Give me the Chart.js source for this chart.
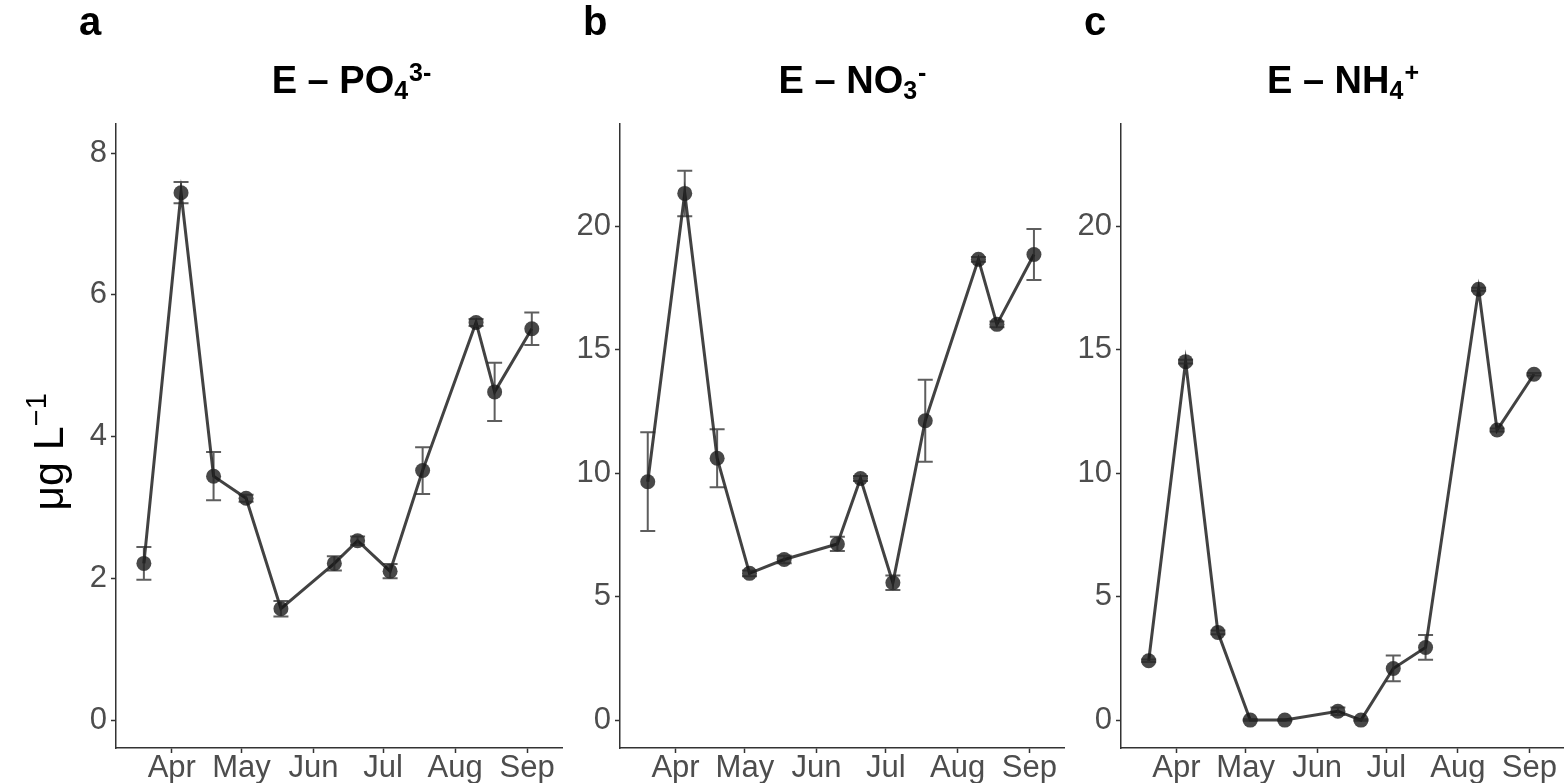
<!DOCTYPE html>
<html>
<head>
<meta charset="utf-8">
<script src="https://cdn.jsdelivr.net/npm/chart.js@4.4.1/dist/chart.umd.min.js"></script>
<style>
  html, body { margin: 0; padding: 0; background: #fff; }
  #wrap { position: relative; width: 1564px; height: 783px; overflow: hidden; }
  .pane { position: absolute; top: 0; height: 783px; }
</style>
</head>
<body>
<div id="wrap">
  <div class="pane" style="left:0px;width:564px"><canvas id="chartA" width="564" height="783"></canvas></div>
  <div class="pane" style="left:564px;width:502px"><canvas id="chartB" width="502" height="783"></canvas></div>
  <div class="pane" style="left:1066px;width:498px"><canvas id="chartC" width="498" height="783"></canvas></div>
</div>
<script>
// sampling dates (same for all three panels)
const sampleDates = ['2019-03-20', '2019-04-05', '2019-04-19', '2019-05-03', '2019-05-18', '2019-06-10',
                     '2019-06-20', '2019-07-04', '2019-07-18', '2019-08-10', '2019-08-18', '2019-09-03'];
const monthStarts = ['2019-04-01', '2019-05-01', '2019-06-01', '2019-07-01', '2019-08-01', '2019-09-01'];
const monthLabels = ['Apr', 'May', 'Jun', 'Jul', 'Aug', 'Sep'];

// a: PO4 3-
const po4Mean = [2.21, 7.44, 3.44, 3.13, 1.57, 2.21, 2.53, 2.10, 3.52, 5.61, 4.63, 5.52];
const po4Err  = [0.23, 0.15, 0.34, 0.05, 0.11, 0.10, 0.06, 0.10, 0.33, 0.05, 0.41, 0.23];
const po4Ticks = [0, 2, 4, 6, 8];

// b: NO3-
const no3Mean = [9.65, 21.32, 10.60, 5.94, 6.50, 7.13, 9.78, 5.56, 12.12, 18.65, 16.02, 18.85];
const no3Err  = [2.00, 0.92, 1.17, 0.12, 0.15, 0.29, 0.10, 0.29, 1.66, 0.10, 0.12, 1.03];
const no3Ticks = [0, 5, 10, 15, 20];

// c: NH4+
const nh4Mean = [2.40, 14.51, 3.55, 0.00, 0.00, 0.36, 0.00, 2.09, 2.94, 17.44, 11.74, 14.00];
const nh4Err  = [0.05, 0.08, 0.08, 0.03, 0.03, 0.15, 0.03, 0.52, 0.50, 0.06, 0.06, 0.05];
const nh4Ticks = [0, 5, 10, 15, 20];

const xStart = '2019-03-08';
const xEnd = '2019-09-16';

const FONT = '"Liberation Sans", Arial, Helvetica, sans-serif';

function toDay(s) {
  return Date.UTC(+s.slice(0, 4), +s.slice(5, 7) - 1, +s.slice(8, 10)) / 86400000;
}

const errorBars = {
  id: 'errorBars',
  afterDatasetsDraw(chart, args, opts) {
    const ctx = chart.ctx;
    const x = chart.scales.x, y = chart.scales.y;
    const pts = chart.data.datasets[0].data;
    ctx.save();
    ctx.strokeStyle = opts.color;
    ctx.lineWidth = opts.width;
    pts.forEach(p => {
      const px = x.getPixelForValue(p.x);
      const top = y.getPixelForValue(p.y + p.err);
      const bot = y.getPixelForValue(p.y - p.err);
      const h = opts.capWidth / 2;
      ctx.beginPath();
      ctx.moveTo(px, top); ctx.lineTo(px, bot);
      ctx.moveTo(px - h, top); ctx.lineTo(px + h, top);
      ctx.moveTo(px - h, bot); ctx.lineTo(px + h, bot);
      ctx.stroke();
    });
    ctx.restore();
  }
};

// title with sub/superscripts, panel tag, optional y axis title
const panelText = {
  id: 'panelText',
  afterDraw(chart, args, o) {
    const ctx = chart.ctx;
    const area = chart.chartArea;
    ctx.save();
    ctx.fillStyle = '#000';
    ctx.textBaseline = 'alphabetic';
    ctx.textAlign = 'left';

    ctx.font = 'bold 40px ' + FONT;
    ctx.fillText(o.tag, area.left - 37, 35);

    const big = 'bold 38px ' + FONT, small = 'bold 25px ' + FONT;
    let total = 0;
    o.title.forEach(part => {
      ctx.font = part.kind === 'main' ? big : small;
      total += ctx.measureText(part.text).width;
    });
    let cx = (area.left + area.right) / 2 + o.titleShift - total / 2;
    o.title.forEach(part => {
      ctx.font = part.kind === 'main' ? big : small;
      const dy = part.kind === 'sub' ? 6 : part.kind === 'sup' ? -12 : 0;
      ctx.fillText(part.text, cx, 93 + dy);
      cx += ctx.measureText(part.text).width + (part.kind === 'sub' ? 1 : 0);
    });

    if (o.yTitle) {
      ctx.translate(63, 452);
      ctx.rotate(-Math.PI / 2);
      const mainF = '43px ' + FONT, supF = '29px ' + FONT;
      ctx.font = mainF;
      const w1 = ctx.measureText(o.yTitle[0]).width;
      ctx.font = supF;
      const w2 = ctx.measureText(o.yTitle[1]).width;
      const sx = -(w1 + w2) / 2;
      ctx.font = mainF;
      ctx.fillText(o.yTitle[0], sx, 0);
      ctx.font = supF;
      ctx.fillText(o.yTitle[1], sx + w1, -17);
    }
    ctx.restore();
  }
};

function makePanel(id, means, errs, yTicks, yMin, yMax, yWidth, padRight, text) {
  const pts = sampleDates.map((d, i) => ({ x: toDay(d), y: means[i], err: errs[i] }));
  return new Chart(document.getElementById(id), {
    type: 'line',
    data: {
      datasets: [{
        data: pts,
        borderColor: 'rgba(45,45,45,0.9)',
        borderWidth: 3,
        tension: 0,
        pointRadius: 7.5,
        pointBorderWidth: 0,
        pointBackgroundColor: 'rgba(20,20,20,0.78)',
        clip: false
      }]
    },
    options: {
      responsive: false,
      animation: false,
      layout: { autoPadding: false, padding: { top: 124, right: padRight, bottom: 0, left: 0 } },
      plugins: {
        legend: { display: false },
        tooltip: { enabled: false },
        errorBars: { color: 'rgba(40,40,40,0.75)', width: 2, capWidth: 15 },
        panelText: text
      },
      scales: {
        x: {
          type: 'linear',
          min: toDay(xStart),
          max: toDay(xEnd),
          afterBuildTicks: s => { s.ticks = monthStarts.map(m => ({ value: toDay(m) })); },
          afterFit: s => { s.height = 35; s.paddingLeft = 0; s.paddingRight = 0; },
          ticks: {
            autoSkip: false,
            maxRotation: 0,
            padding: -3,
            color: '#4d4d4d',
            font: { family: FONT, size: 31 },
            callback: (v, i) => monthLabels[i]
          },
          grid: { display: true, drawOnChartArea: false, drawTicks: true, tickLength: 5, color: '#333', tickWidth: 1.5 },
          border: { display: true, color: '#333', width: 1.5 }
        },
        y: {
          type: 'linear',
          min: yMin,
          max: yMax,
          afterBuildTicks: s => { s.ticks = yTicks.map(v => ({ value: v })); },
          afterFit: s => { s.width = yWidth; s.paddingTop = 0; s.paddingBottom = 0; },
          ticks: {
            padding: 4,
            color: '#4d4d4d',
            font: { family: FONT, size: 31 }
          },
          grid: { display: true, drawOnChartArea: false, drawTicks: true, tickLength: 5, color: '#333', tickWidth: 1.5 },
          border: { display: true, color: '#333', width: 1.5 }
        }
      }
    },
    plugins: [errorBars, panelText]
  });
}

makePanel('chartA', po4Mean, po4Err, po4Ticks, -0.395, 8.41, 116, 2, {
  tag: 'a', titleShift: 12,
  title: [{ text: 'E \u2013 PO', kind: 'main' }, { text: '4', kind: 'sub' }, { text: '3-', kind: 'sup' }],
  yTitle: ['\u03bcg L', '\u22121']
});
makePanel('chartB', no3Mean, no3Err, no3Ticks, -1.13, 24.13, 56, 2, {
  tag: 'b', titleShift: 10,
  title: [{ text: 'E \u2013 NO', kind: 'main' }, { text: '3', kind: 'sub' }, { text: '-', kind: 'sup' }]
});
makePanel('chartC', nh4Mean, nh4Err, nh4Ticks, -1.13, 24.13, 55, 0, {
  tag: 'c', titleShift: 0,
  title: [{ text: 'E \u2013 NH', kind: 'main' }, { text: '4', kind: 'sub' }, { text: '+', kind: 'sup' }]
});
</script>
</body>
</html>
